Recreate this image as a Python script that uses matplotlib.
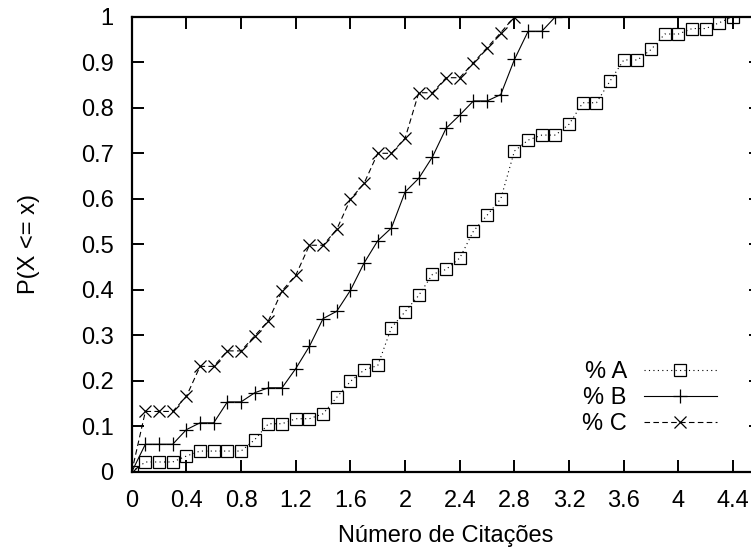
import matplotlib
matplotlib.use("Agg")
from matplotlib import pyplot as plt

plt.rcParams["font.family"] = ["Liberation Sans", "DejaVu Sans"]
plt.rcParams["font.size"] = 17

# CDF values, one point every 0.1 citations
x_a = [0.0, 0.1, 0.2, 0.3, 0.4, 0.5, 0.6, 0.7, 0.8, 0.9,
       1.0, 1.1, 1.2, 1.3, 1.4, 1.5, 1.6, 1.7, 1.8, 1.9,
       2.0, 2.1, 2.2, 2.3, 2.4, 2.5, 2.6, 2.7, 2.8, 2.9,
       3.0, 3.1, 3.2, 3.3, 3.4, 3.5, 3.6, 3.7, 3.8, 3.9,
       4.0, 4.1, 4.2, 4.3, 4.4]
y_a = [0.0, 0.022, 0.022, 0.022, 0.035, 0.046, 0.046, 0.046, 0.046, 0.071,
       0.106, 0.106, 0.117, 0.117, 0.128, 0.164, 0.199, 0.224, 0.234, 0.317,
       0.352, 0.388, 0.434, 0.445, 0.470, 0.529, 0.564, 0.600, 0.705, 0.729,
       0.740, 0.740, 0.764, 0.811, 0.811, 0.859, 0.905, 0.905, 0.928, 0.962,
       0.962, 0.974, 0.974, 0.987, 1.0]

x_b = [0.0, 0.1, 0.2, 0.3, 0.4, 0.5, 0.6, 0.7, 0.8, 0.9,
       1.0, 1.1, 1.2, 1.3, 1.4, 1.5, 1.6, 1.7, 1.8, 1.9,
       2.0, 2.1, 2.2, 2.3, 2.4, 2.5, 2.6, 2.7, 2.8, 2.9,
       3.0, 3.1]
y_b = [0.0, 0.061, 0.061, 0.061, 0.093, 0.108, 0.108, 0.154, 0.154, 0.174,
       0.185, 0.185, 0.227, 0.276, 0.337, 0.353, 0.399, 0.459, 0.508, 0.536,
       0.615, 0.645, 0.692, 0.755, 0.784, 0.815, 0.815, 0.829, 0.906, 0.968,
       0.968, 1.0]

x_c = [0.0, 0.1, 0.2, 0.3, 0.4, 0.5, 0.6, 0.7, 0.8, 0.9,
       1.0, 1.1, 1.2, 1.3, 1.4, 1.5, 1.6, 1.7, 1.8, 1.9,
       2.0, 2.1, 2.2, 2.3, 2.4, 2.5, 2.6, 2.7, 2.8]
y_c = [0.0, 0.133, 0.133, 0.133, 0.166, 0.232, 0.232, 0.266, 0.266, 0.299,
       0.332, 0.398, 0.432, 0.498, 0.498, 0.533, 0.599, 0.634, 0.700, 0.700,
       0.733, 0.833, 0.833, 0.866, 0.866, 0.899, 0.932, 0.965, 1.0]

x_ticks = [0, 0.4, 0.8, 1.2, 1.6, 2.0, 2.4, 2.8, 3.2, 3.6, 4.0, 4.4]
x_tick_labels = ["0", "0.4", "0.8", "1.2", "1.6", "2", "2.4", "2.8", "3.2", "3.6", "4", "4.4"]
y_ticks = [0, 0.1, 0.2, 0.3, 0.4, 0.5, 0.6, 0.7, 0.8, 0.9, 1.0]
y_tick_labels = ["0", "0.1", "0.2", "0.3", "0.4", "0.5", "0.6", "0.7", "0.8", "0.9", "1"]

W, H = 751, 554
fig = plt.figure(figsize=(W / 100, H / 100), dpi=100)

# gnuplot-like box, right border falls just outside the picture
left, right, top, bottom = 131.7, 760.5, 16.7, 472.0
ax = fig.add_axes([left / W, 1 - bottom / H, (right - left) / W, (bottom - top) / H])

ax.plot(x_a, y_a, color="black", lw=0.8, linestyle=(0, (1, 3)),
        marker="s", markersize=8.6, mfc="none", mec="black", mew=0.9, label="% A")
ax.plot(x_b, y_b, color="black", lw=0.8, linestyle="-",
        marker="+", markersize=9.5, mew=0.9, label="% B")
ax.plot(x_c, y_c, color="black", lw=0.8, linestyle=(0, (5, 3)),
        marker="x", markersize=9.0, mew=0.9, label="% C")

ax.set_xlim(0, 4.6)
ax.set_ylim(0, 1)
ax.set_xticks(x_ticks)
ax.set_xticklabels(x_tick_labels)
ax.set_yticks(y_ticks)
ax.set_yticklabels(y_tick_labels)

ax.tick_params(direction="in", length=8.5, width=1.4, top=True, right=True)
ax.tick_params(axis="x", pad=13)
ax.tick_params(axis="y", pad=13)
for s in ax.spines.values():
    s.set_linewidth(1.6)

ax.set_xlabel("Número de Citações")
ax.set_ylabel("P(X <= x)")
ax.xaxis.set_label_coords(0.5, (472 - 525) / (bottom - top))
ax.yaxis.set_label_coords((40 - left) / (right - left), 0.5)

ax.legend(loc="upper right", bbox_to_anchor=(717 / W, 1 - 361 / H),
          bbox_transform=fig.transFigure, frameon=False, markerfirst=False,
          numpoints=1, handlelength=3.1, handletextpad=0.72, labelspacing=0.18,
          borderpad=0, borderaxespad=0)

fig.savefig("out.png", dpi=100)
